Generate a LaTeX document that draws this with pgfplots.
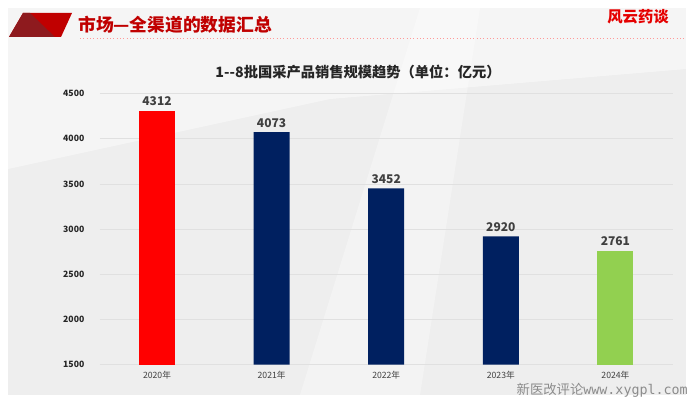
\documentclass[border=0pt]{standalone}
\usepackage{pgfplots}
\pgfplotsset{compat=1.18}
\usepackage{fontspec}
\setmainfont{Noto Sans CJK SC}
\newfontfamily\wmfont{DejaVu Sans Mono}
\definecolor{bg}{HTML}{EEEEEE}
\definecolor{hdred}{HTML}{C00000}
\definecolor{darkred}{HTML}{8E1A1E}
\definecolor{navy}{HTML}{002060}
\definecolor{lgreen}{HTML}{92D050}
\definecolor{txt}{HTML}{404040}
\begin{document}
\begin{tikzpicture}[x=0.75pt,y=0.75pt]
\useasboundingbox (0,0) rectangle (698,399);
\fill[white] (0,0) rectangle (698,399);
\fill[bg] (8,4) rectangle (686,391);
\fill[white,opacity=0.45] (8,230) -- (330,300) -- (686,330) -- (686,391) -- (8,391) -- cycle;
\fill[white,opacity=0.35] (300,4) -- (420,4) -- (480,391) -- (420,391) -- cycle;
% header
\fill[hdred] (23,386) -- (72,386) -- (61,362) -- (9,362) -- cycle;
\fill[darkred] (9,362) -- (23,386) -- (30,386) -- (55,362) -- cycle;
\node[anchor=west,text=hdred,font=\fontsize{13.3}{13.3}\selectfont\bfseries,inner sep=0pt] at (78,374) {市场—全渠道的数据汇总};
\node[anchor=east,text=red!90!black,font=\fontsize{11.5}{11.5}\selectfont\bfseries,inner sep=0pt] at (669,382) {风云药谈};
\draw[red!40,dotted,line width=0.5pt] (80,361) -- (686,361);
% title
\node[text=black!85,font=\fontsize{10.7}{10.7}\selectfont\bfseries,inner sep=0pt] at (358,327) {1-{}-8批国采产品销售规模趋势（单位：亿元）};
\begin{axis}[
  at={(87,38)}, anchor=south west,
  scale only axis, width=429.75pt, height=203.25pt,
  xmin=-0.5, xmax=4.5, ymin=1500, ymax=4500,
  axis line style={draw=none},
  ymajorgrids, grid style={draw=black!12, line width=0.6pt},
  ytick={1500,2000,2500,3000,3500,4000,4500},
  xtick={0,1,2,3,4},
  xticklabels={2020年,2021年,2022年,2023年,2024年},
  major tick length=0pt,
  /pgf/number format/assume math mode=true,
  /pgf/number format/1000 sep={},
  yticklabel style={font=\fontsize{6.5}{6.5}\selectfont\bfseries, text=black!85, xshift=-8pt},
  xticklabel style={font=\fontsize{6.5}{6.5}\selectfont, text=txt, yshift=-1.5pt},
  ybar, bar width=27pt, bar shift=0pt,
  nodes near coords,
  every node near coord/.append style={font=\fontsize{9}{9}\selectfont\bfseries, text=txt},
  clip=false,
]
\addplot[fill=red, draw=none] coordinates {(0,4312)};
\addplot[fill=navy, draw=none] coordinates {(1,4073) (2,3452) (3,2920)};
\addplot[fill=lgreen, draw=none] coordinates {(4,2761)};
\end{axis}
\node[anchor=east,text=black!45,font=\fontsize{10}{10}\selectfont,inner sep=0pt] at (688,9) {新医改评论\wmfont www.xygpl.com};
\end{tikzpicture}
\end{document}
